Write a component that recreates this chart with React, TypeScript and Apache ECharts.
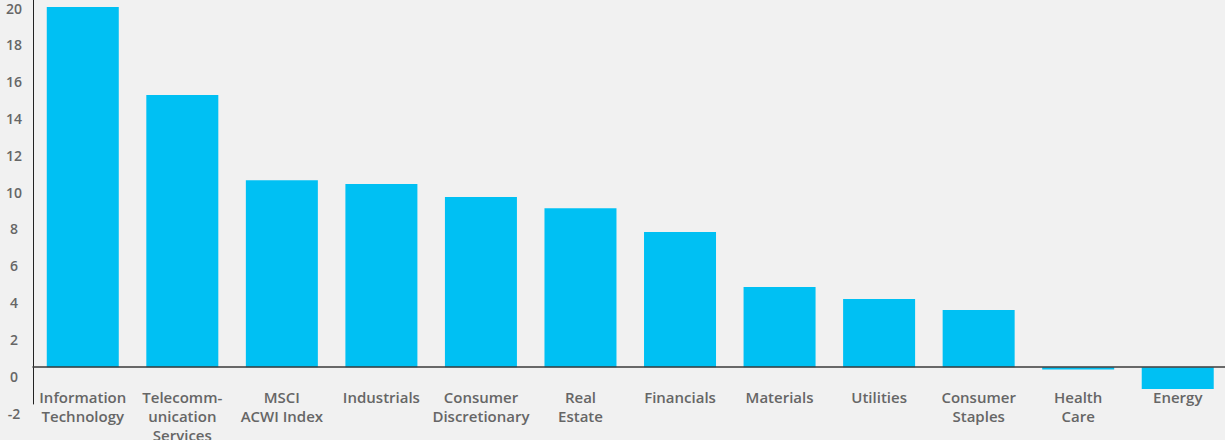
import React, { useEffect, useRef } from "react";
import * as echarts from "echarts";

const categories = [
  "Information\nTechnology",
  "Telecomm-\nunication\nServices",
  "MSCI\nACWI Index",
  "Industrials",
  "Consumer\nDiscretionary",
  "Real\nEstate",
  "Financials",
  "Materials",
  "Utilities",
  "Consumer\nStaples",
  "Health\nCare",
  "Energy",
];

const values = [19.57, 14.78, 10.16, 9.95, 9.24, 8.64, 7.34, 4.35, 3.7, 3.1, -0.12, -1.18];

const yMin = -2;
const yMax = 20;
const yInterval = 2;

export default function App() {
  const ref = useRef<HTMLDivElement>(null);
  useEffect(() => {
    document.body.style.margin = "0";
    const chart = echarts.init(ref.current!, null, { renderer: "svg" });
    chart.setOption({
      animation: false,
      backgroundColor: "#f1f1f1",
      grid: {
        left: 33,
        right: -2.5,
        top: -1,
        bottom: 36,
        containLabel: false,
        outerBoundsMode: "none",
      },
      xAxis: {
        type: "category",
        data: categories,
        axisTick: { show: false },
        axisLine: { onZero: true, lineStyle: { color: "#3a3a3a", width: 1.5 } },
        axisLabel: {
          interval: 0,
          margin: -16.5,
          color: "#666666",
          fontFamily: "Open Sans",
          fontWeight: 600,
          fontSize: 15,
          lineHeight: 19,
        },
        z: 5,
      },
      yAxis: {
        type: "value",
        min: yMin,
        max: yMax,
        interval: yInterval,
        splitLine: { show: false },
        axisTick: { show: false },
        axisLine: { show: true, lineStyle: { color: "#222222", width: 1 } },
        axisLabel: {
          align: "center",
          margin: 19,
          color: "#666666",
          fontFamily: "Open Sans",
          fontWeight: 600,
          fontSize: 14,
          verticalAlign: "top",
          lineHeight: 18,
        },
      },
      series: [
        {
          type: "bar",
          data: values,
          barWidth: 72,
          itemStyle: { color: "#00c0f3" },
        },
      ],
    });
    return () => chart.dispose();
  }, []);
  return <div ref={ref} style={{ width: 1225, height: 440, background: "#f1f1f1" }} />;
}
